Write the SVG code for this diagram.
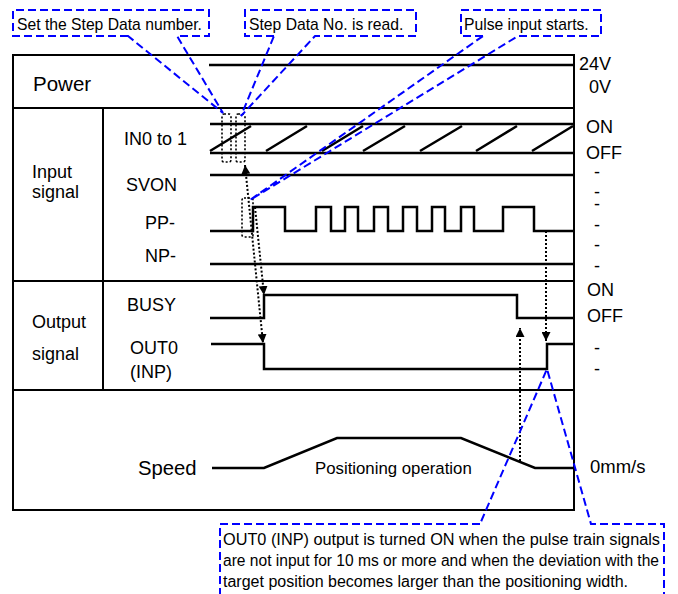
<svg xmlns="http://www.w3.org/2000/svg" width="678" height="594" viewBox="0 0 678 594">
<defs>
<style>
text{font-family:"Liberation Sans",Arial,sans-serif;fill:#000}
.frm{fill:none;stroke:#000;stroke-width:2}
.sig{fill:none;stroke:#000;stroke-width:2.5;stroke-linejoin:miter}
.dot{fill:none;stroke:#000;stroke-width:1.6;stroke-dasharray:2 2}
.arr{fill:none;stroke:#000;stroke-width:2;stroke-dasharray:2 2}
.call{fill:none;stroke:#0000ff;stroke-width:2;stroke-dasharray:8 4}
.lb{font-size:18px}
.ct{font-size:15.7px}
.bt{font-size:16px}
</style>
<marker id="ah" viewBox="0 0 10 10" refX="10" refY="5" markerUnits="userSpaceOnUse" markerWidth="9" markerHeight="9" orient="auto-start-reverse">
<path d="M0,0 L10,5 L0,10 Z" fill="#000"/>
</marker>
</defs>
<rect width="678" height="594" fill="#fff"/>

<g id="frame">
<rect class="frm" x="13" y="55" width="561" height="455"/>
<path class="frm" d="M13,108 H574 M13,281 H574 M13,390 H574 M103,108 V390"/>
</g>

<g id="row-labels">
<text x="33" y="91" style="font-size:20.5px">Power</text>
<text class="lb" x="32" y="178">Input</text>
<text class="lb" x="32" y="198">signal</text>
<text class="lb" x="32" y="328">Output</text>
<text class="lb" x="32" y="360">signal</text>
<text class="lb" x="124" y="145">IN0 to 1</text>
<text class="lb" x="126" y="191">SVON</text>
<text class="lb" x="145" y="229">PP-</text>
<text class="lb" x="145" y="262">NP-</text>
<text class="lb" x="127" y="311">BUSY</text>
<text class="lb" x="130" y="354">OUT0</text>
<text class="lb" x="130" y="378">(INP)</text>
<text x="138" y="475" style="font-size:20.3px">Speed</text>
</g>

<g id="level-labels">
<text class="lb" x="579" y="70">24V</text>
<text class="lb" x="589" y="93">0V</text>
<text class="lb" x="586" y="133">ON</text>
<text class="lb" x="586" y="159">OFF</text>
<text class="lb" x="594" y="178">-</text>
<text class="lb" x="594" y="198">-</text>
<text class="lb" x="594" y="210">-</text>
<text class="lb" x="594" y="231">-</text>
<text class="lb" x="594" y="251">-</text>
<text class="lb" x="594" y="272">-</text>
<text class="lb" x="587" y="296">ON</text>
<text class="lb" x="587" y="322">OFF</text>
<text class="lb" x="594" y="354">-</text>
<text class="lb" x="594" y="375">-</text>
<text x="590" y="473" style="font-size:18.5px">0mm/s</text>
</g>

<g id="sig-power"><path class="sig" d="M209,65 H574"/></g>
<g id="sig-in0">
<path class="sig" d="M210,124 H574 M210,153 H574"/>
<path class="sig" d="M210,151 L251,126 M266,151 L307,126 M322,151 L363,126 M363,151 L405,126 M420,151 L462,126 M476,151 L517,126 M532,151 L573,126"/>
</g>
<g id="sig-svon"><path class="sig" d="M210,175 H574"/></g>
<g id="sig-pp"><path class="sig" d="M210,231 H253 V207 H285 V231 H316 V207 H331 V231 H345 V207 H358 V231 H374 V207 H388 V231 H403 V207 H417 V231 H432 V207 H445 V231 H461 V207 H474 V231 H503 V207 H534 V231 H574"/></g>
<g id="sig-np"><path class="sig" d="M210,264 H574"/></g>
<g id="sig-busy"><path class="sig" d="M210,318 H264 V295 H517 V318 H574"/></g>
<g id="sig-out0"><path class="sig" d="M211,344 H264 V369 H547 V344 H574"/></g>
<g id="sig-speed">
<path class="sig" d="M212,468 H264 L337,438 H461 L535,468 H574"/>
<text x="315" y="474" style="font-size:16.8px">Positioning operation</text>
</g>

<g id="marks">
<rect class="dot" x="222" y="114" width="9" height="48" rx="2"/>
<rect class="dot" x="236" y="114" width="9" height="48" rx="2"/>
<rect class="dot" x="242" y="198" width="11" height="39" rx="2"/>
</g>

<g id="connectors">
<path class="arr" d="M245,165 L263,343" marker-start="url(#ah)" marker-end="url(#ah)"/>
<path class="arr" d="M255,207 L264,295" marker-end="url(#ah)"/>
<path class="arr" d="M546,231 V341" marker-end="url(#ah)"/>
<path class="arr" d="M520,461 V328" marker-end="url(#ah)"/>
</g>

<g id="callout-set">
<path class="call" d="M128,36 H13 V10 H209 V36 H177 L223,113 Z"/>
<text class="ct" x="17" y="29.5">Set the Step Data number.</text>
</g>
<g id="callout-read">
<path class="call" d="M274,36 H245 V10 H416 V36 H315 L241,116 Z"/>
<text class="ct" x="249" y="29.5">Step Data No. is read.</text>
</g>
<g id="callout-pulse">
<path class="call" d="M483,36 H461 V10 H601 V36 H518 L250,200 Z"/>
<text class="ct" x="464" y="29.5">Pulse input starts.</text>
</g>
<g id="callout-inp">
<path class="call" d="M480,524 H220 V606 H664 V524 H591 L547,369 Z"/>
<text class="bt" x="223" y="545" textLength="437" lengthAdjust="spacingAndGlyphs">OUT0 (INP) output is turned ON when the pulse train signals</text>
<text class="bt" x="223" y="566" textLength="436" lengthAdjust="spacingAndGlyphs">are not input for 10 ms or more and when the deviation with the</text>
<text class="bt" x="223" y="587" textLength="405" lengthAdjust="spacingAndGlyphs">target position becomes larger than the positioning width.</text>
</g>
</svg>
